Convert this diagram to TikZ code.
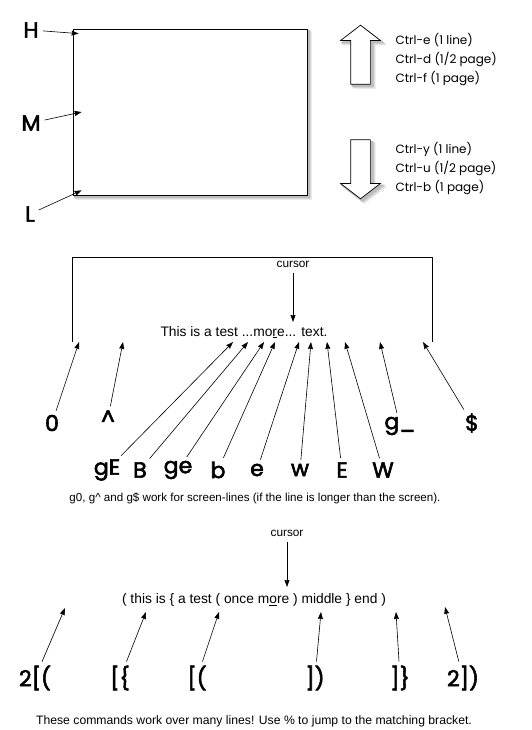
\documentclass[tikz,border=0pt]{standalone}
\usepackage{fontspec}
\setmainfont{Liberation Sans}
\newfontfamily\comic{Poppins}
\newfontfamily\comiclab[FakeBold=2.5]{Poppins}
\usepackage{tikz}
\usetikzlibrary{positioning}
\usetikzlibrary{arrows.meta}
\usetikzlibrary{shapes.arrows}

\begin{document}
\begin{tikzpicture}[x=1pt,y=-1pt]
\useasboundingbox (0,0) rectangle (532,730);

\tikzset{screenbox/.style={inner sep=0pt, minimum width=234pt, minimum height=166pt},
         bigarrow/.style={single arrow, minimum width=39pt, minimum height=59pt, inner sep=9.5pt,
                          single arrow head extend=10pt, single arrow tip angle=105},
         castshadow/.style={fill=black!#1, draw=black!#1, line width=1.5pt}}

\foreach \d/\g in {4/8,3/16,2/26}{
    \node [screenbox, castshadow=\g] at (190+\d,112+\d) {};
    \node [bigarrow, castshadow=\g, shape border rotate=90] at (360.5+\d,58.5+\d) {};
    \node [bigarrow, castshadow=\g, shape border rotate=270] at (360.5+\d,165.5+\d) {};
}

\node (scr) [screenbox, draw, line width=0.8pt, fill=white] at (190,112) {};
\begin{scope}[every node/.style={bigarrow, draw, fill=white, line width=0.7pt}]
    \node (up) [shape border rotate=90] at (360.5,58.5) {};
    \node (down) [shape border rotate=270] at (360.5,165.5) {};
\end{scope}

\begin{scope}[every node/.style={anchor=west, align=left, font=\comic\fontsize{12}{19}\selectfont}]
    \node (ctrlup) at (392,60) {Ctrl-e (1 line)\\Ctrl-d (1/2 page)\\Ctrl-f (1 page)};
    \node (ctrldown) at (392,169) {Ctrl-y (1 line)\\Ctrl-u (1/2 page)\\Ctrl-b (1 page)};
\end{scope}

\begin{scope}[every node/.style={font=\comiclab\fontsize{22}{22}\selectfont, inner sep=2pt}]
    \node (H) at (31,30) {H};
    \node (M) at (31,123) {M};
    \node (L) at (30,214) {L};
    \node (zero) at (52,423) {0};
    \node (caret) at (108,418) {\textasciicircum};
    \node (gu) at (400,426) {g\_};
    \node (dollar) at (472,423) {\$};
    \node (gE) at (107,470) {gE};
    \node (B) at (140,470) {B};
    \node (ge) at (178,470) {ge};
    \node (b) at (218,470) {b};
    \node (e) at (257,470) {e};
    \node (w) at (300,470) {w};
    \node (E) at (342,470) {E};
    \node (W) at (383,470) {W};
    \node (pa) at (35,678) {2[(};
    \node (pb) at (120,678) {[\{};
    \node (pc) at (197,678) {[(};
    \node (pd) at (315,678) {])};
    \node (pe) at (400,678) {]\}};
    \node (pf) at (463,678) {2])};
\end{scope}

\begin{scope}[every node/.style={font=\fontsize{13.8}{16}\selectfont}]
    \node (line1) at (244,332) {This is a test ...mo\underline{r}e... text.};
    \node (line2) at (254,600) {( this is \{ a test ( once m\underline{o}re ) middle \} end )};
\end{scope}

\begin{scope}[every node/.style={font=\fontsize{11.8}{13}\selectfont}]
    \node (cur1) at (293,264) {cursor};
    \node (cur2) at (287,533) {cursor};
\end{scope}
\node (note1) [font=\fontsize{11.6}{13}\selectfont] at (255,498)
    {g0, g\textasciicircum{} and g\$ work for screen-lines (if the line is longer than the screen).};
\node (note2) [font=\fontsize{12.2}{14}\selectfont] at (254,721)
    {These commands work over many lines! Use \% to jump to the matching bracket.};

\coordinate (bl) at (72,342);
\coordinate (tr) at (432,257);
\coordinate (br) at (432,342);
\coordinate (c1) at (293,322);
\coordinate (c2) at (287,587);
\coordinate (t0) at (79,342);
\coordinate (tc) at (123,342);
\coordinate (tgE) at (233,342);
\coordinate (tB) at (248,342);
\coordinate (tge) at (264,342);
\coordinate (tb) at (275,342);
\coordinate (te) at (299,342);
\coordinate (tw) at (311,342);
\coordinate (tE) at (327,342);
\coordinate (tW) at (345,342);
\coordinate (tg) at (380,342);
\coordinate (td) at (423,342);
\coordinate (sa) at (65,608);
\coordinate (sb) at (146,612);
\coordinate (sc) at (219,612);
\coordinate (sd) at (321,612);
\coordinate (se) at (396,612);
\coordinate (sf) at (445,607);

\draw [line width=0.7pt] (bl) |- (tr) -- (br);

\begin{scope}[>={Stealth[length=7pt,width=5pt,inset=0.5pt]},
              every edge/.style={draw=black, line width=0.6pt, shorten <=2pt}]
    \path [->] (H) edge ([xshift=6pt,yshift=-5pt]scr.north west);
    \path [->] (M) edge ([xshift=9pt]scr.west);
    \path [->] (L) edge ([xshift=9pt,yshift=5pt]scr.south west);
    \path [->] (cur1) edge (c1);
    \path [->] (cur2) edge (c2);
    \path [->] (zero) edge (t0);
    \path [->] (caret) edge (tc);
    \path [->] (gE) edge (tgE);
    \path [->] (B) edge (tB);
    \path [->] (ge) edge (tge);
    \path [->] (b) edge (tb);
    \path [->] (e) edge (te);
    \path [->] (w) edge (tw);
    \path [->] (E) edge (tE);
    \path [->] (W) edge (tW);
    \path [->] (gu) edge (tg);
    \path [->] (dollar) edge (td);
    \path [->] (pa) edge (sa);
    \path [->] (pb) edge (sb);
    \path [->] (pc) edge (sc);
    \path [->] (pd) edge (sd);
    \path [->] (pe) edge (se);
    \path [->] (pf) edge (sf);
\end{scope}
\end{tikzpicture}
\end{document}
